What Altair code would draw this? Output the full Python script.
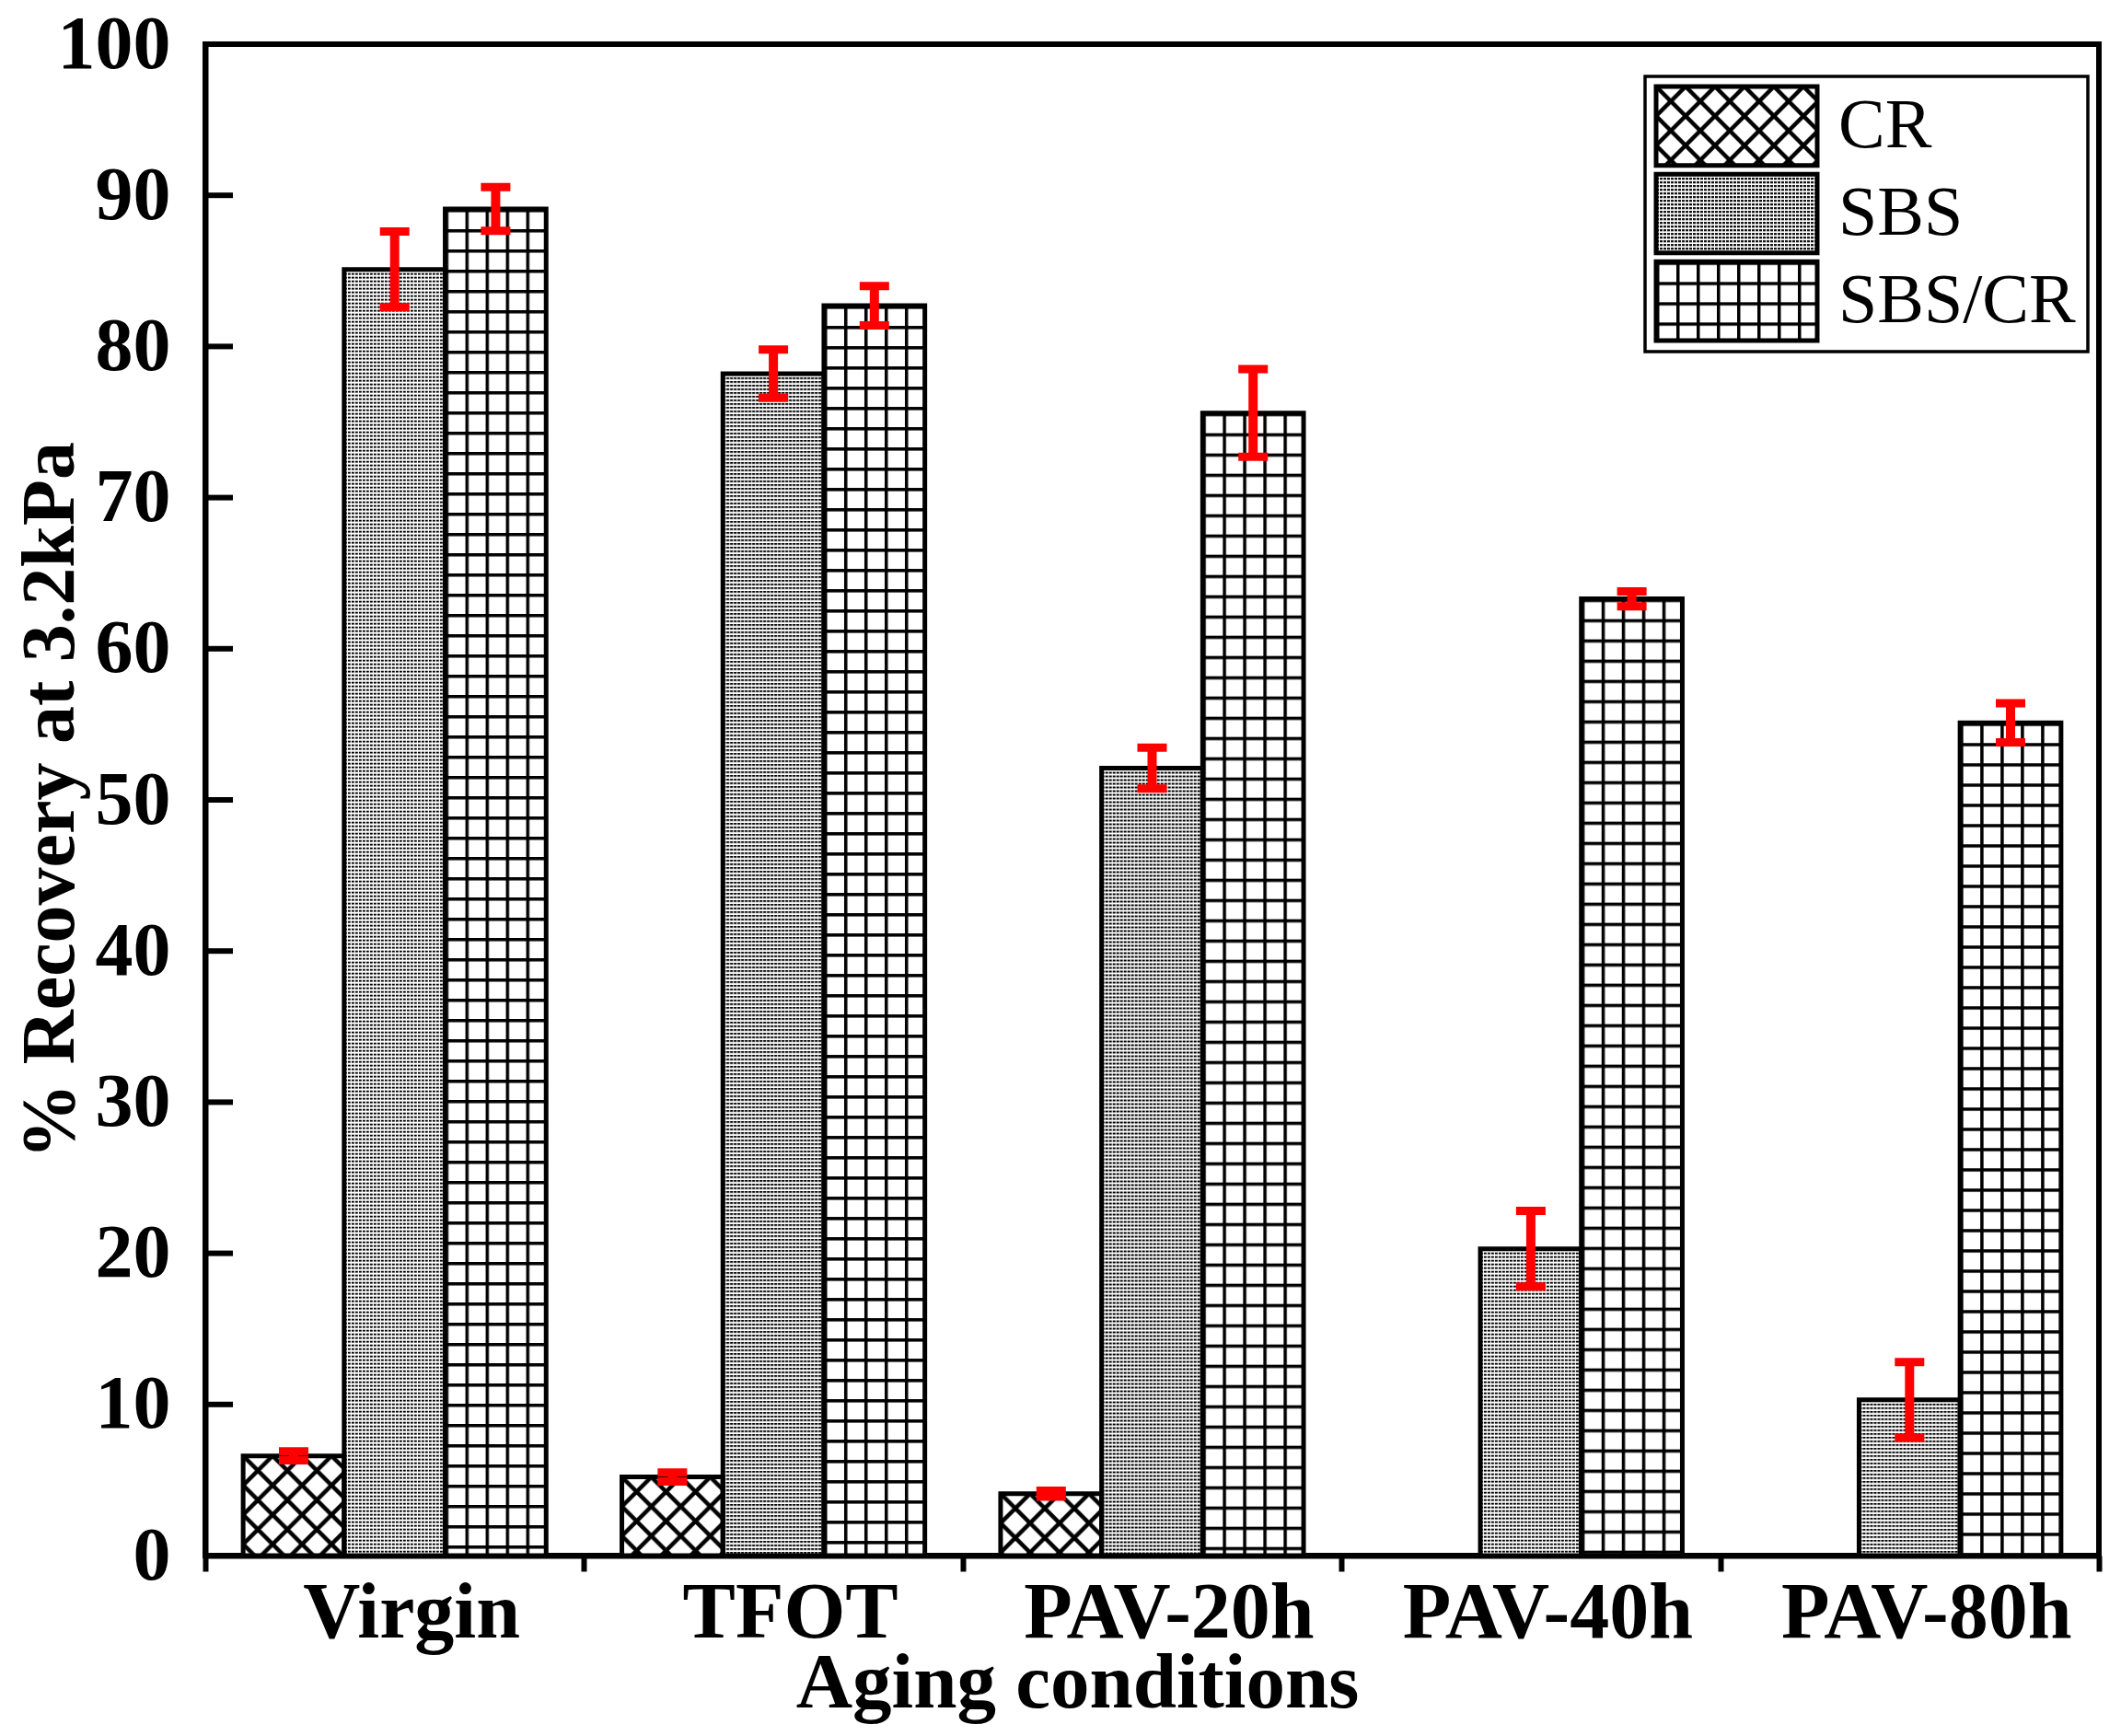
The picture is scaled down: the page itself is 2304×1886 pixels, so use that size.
import base64

import altair as alt
import pandas as pd

conditions = ["Virgin", "TFOT", "PAV-20h", "PAV-40h", "PAV-80h"]
series = ["CR", "SBS", "SBS/CR"]
cr_values = [6.6, 5.2, 4.1, None, None]
cr_errors = [0.3, 0.3, 0.2, None, None]
sbs_values = [85.1, 78.2, 52.1, 20.3, 10.3]
sbs_errors = [2.5, 1.6, 1.35, 2.5, 2.5]
sbscr_values = [89.1, 82.7, 75.6, 63.3, 55.1]
sbscr_errors = [1.45, 1.3, 2.9, 0.5, 1.3]
y_ticks = [0, 10, 20, 30, 40, 50, 60, 70, 80, 90, 100]

FONT = "Liberation Serif"

rows = []
for name, vals, errs in [("CR", cr_values, cr_errors),
                         ("SBS", sbs_values, sbs_errors),
                         ("SBS/CR", sbscr_values, sbscr_errors)]:
    for cond, v, e in zip(conditions, vals, errs):
        if v is None:
            continue
        rows.append({"Condition": cond, "Series": name, "Value": v,
                     "Low": v - e, "High": v + e})
df = pd.DataFrame(rows)


def pattern_uri(w, h, body):
    # svg sans viewBox: le motif garde sa taille en pixels quelle que soit la barre
    svg = ('<svg xmlns="http://www.w3.org/2000/svg" width="100%" height="100%">'
           f'<defs><pattern id="p" width="{w}" height="{h}" patternUnits="userSpaceOnUse">'
           f'<rect width="{w}" height="{h}" fill="white"/>{body}</pattern></defs>'
           '<rect width="100%" height="100%" fill="url(#p)"/></svg>')
    return "data:image/svg+xml;base64," + base64.b64encode(svg.encode()).decode()


patterns = {
    "CR": pattern_uri(32, 32, '<path d="M-32,-32L64,64M0,-32L64,32M-32,0L32,64'
                              'M64,-32L-32,64M32,-32L-32,32M64,0L0,64" '
                              'stroke="black" stroke-width="4.5"/>'),
    "SBS": pattern_uri(4, 4, '<rect width="3" height="2" fill="black"/>'),
    "SBS/CR": pattern_uri(22, 22, '<rect width="22" height="3.5" fill="black"/>'
                                  '<rect width="3.5" height="22" fill="black"/>'),
}

x_enc = alt.X(
    "Condition:N",
    scale=alt.Scale(type="band", domain=conditions, paddingInner=0, paddingOuter=0),
    axis=alt.Axis(
        title="Aging conditions", labelAngle=0, tickBand="extent",
        tickSize=17, tickWidth=6, tickColor="black",
        domainWidth=6, domainColor="black",
        labelFont=FONT, labelFontSize=86, labelFontWeight="bold", labelColor="black",
        labelBaseline="alphabetic", labelPadding=71, labelLimit=0, labelOverlap=False,
        labelOffset=18,
        titleFont=FONT, titleFontSize=85, titleFontWeight="bold", titleColor="black",
        titleX=947, titleY=164, titleBaseline="alphabetic", titleAlign="center",
    ),
)
# l'écart entre groupes vient du padding extérieur de l'offset
xoff = alt.XOffset("Series:N", scale=alt.Scale(type="band", domain=series,
                                               paddingInner=0, paddingOuter=0.375))
y_scale = alt.Scale(domain=[0, 100], nice=False, zero=True)
y_axis = alt.Axis(
    values=y_ticks, ticks=False, tickSize=0, grid=False,
    domainWidth=6, domainColor="black",
    labelFont=FONT, labelFontSize=82, labelFontWeight="bold", labelColor="black",
    labelPadding=38,
    title="% Recovery at 3.2kPa", titleFont=FONT, titleFontSize=82,
    titleFontWeight="bold", titleColor="black",
    titleAngle=270, titleX=-144, titleY=821, titleBaseline="alphabetic",
    titleAlign="center",
)


def y_enc(field):
    return alt.Y(field, scale=y_scale, axis=y_axis)


base = alt.Chart(df)

fills = [
    base.transform_filter(alt.datum.Series == s)
    .mark_image(aspect=False)
    .encode(x=x_enc, xOffset=xoff, y=y_enc("Value:Q"), url=alt.value(patterns[s]))
    for s in series
]

outline = base.mark_bar(fillOpacity=0, stroke="black", strokeWidth=5).encode(
    x=x_enc, xOffset=xoff, y=y_enc("Value:Q")
)

err_line = base.mark_rule(color="red", strokeWidth=10).encode(
    x=x_enc, xOffset=xoff, y=y_enc("Low:Q"), y2="High:Q"
)
err_low = base.mark_tick(color="red", size=32, thickness=9, opacity=1).encode(
    x=x_enc, xOffset=xoff, y=y_enc("Low:Q")
)
err_high = base.mark_tick(color="red", size=32, thickness=9, opacity=1).encode(
    x=x_enc, xOffset=xoff, y=y_enc("High:Q")
)

# graduations vers l'intérieur
inner_ticks = alt.Chart(pd.DataFrame({"Tick": y_ticks})).mark_rule(
    color="black", strokeWidth=6
).encode(y=y_enc("Tick:Q"), x=alt.value(0), x2=alt.value(30))

main = alt.layer(*fills, outline, err_line, err_low, err_high, inner_ticks)

# légende avec motifs
leg_df = pd.DataFrame({"Series": series})
leg_y = alt.Y("Series:N", axis=None,
              scale=alt.Scale(type="band", domain=series, range=[46, 322],
                              paddingInner=0.1, paddingOuter=0))

leg_frame = alt.Chart(pd.DataFrame({"k": [0]})).mark_rect(
    fill="white", stroke="black", strokeWidth=3.5
).encode(x=alt.value(1564), x2=alt.value(2045), y=alt.value(35), y2=alt.value(334))

leg_fills = [
    alt.Chart(leg_df).transform_filter(alt.datum.Series == s)
    .mark_image(aspect=False)
    .encode(x=alt.value(1576), x2=alt.value(1751), y=leg_y, url=alt.value(patterns[s]))
    for s in series
]
leg_outline = alt.Chart(leg_df).mark_rect(
    fillOpacity=0, stroke="black", strokeWidth=5
).encode(x=alt.value(1576), x2=alt.value(1751), y=leg_y)
leg_text = alt.Chart(leg_df).mark_text(
    align="left", baseline="middle", font=FONT, fontSize=76, color="black"
).encode(x=alt.value(1774), y=leg_y, text="Series:N")

legend = alt.layer(leg_frame, *leg_fills, leg_outline, leg_text)

chart = (
    alt.layer(main, legend)
    .resolve_scale(y="independent")
    .properties(
        width=2057, height=1642,
        autosize=alt.AutoSizeParams(type="none"),
        padding={"left": 215, "top": 40, "right": 16, "bottom": 188},
        background="white",
    )
    .configure_view(stroke="black", strokeWidth=6)
)

chart.save("out.html", embed_options={"renderer": "svg", "actions": False})
